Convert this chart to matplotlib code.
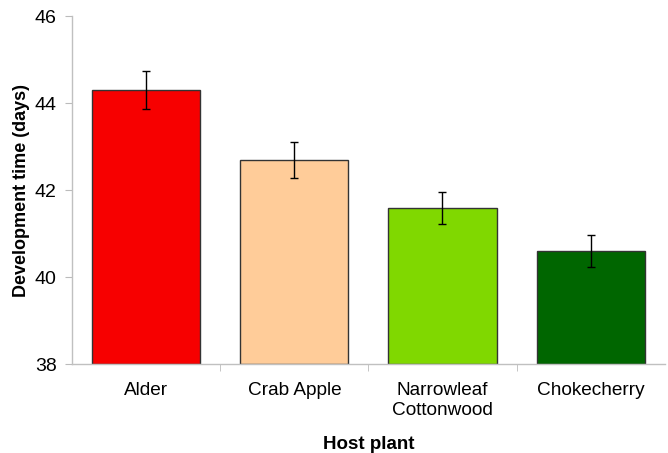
import matplotlib
matplotlib.use('Agg')
import matplotlib.pyplot as plt

plt.rcParams['font.family'] = ['Liberation Sans', 'DejaVu Sans']

# Data
plants = ['Alder', 'Crab Apple', 'Narrowleaf\nCottonwood', 'Chokecherry']
dev_time = [44.3, 42.7, 41.6, 40.6]
std_err = [0.44, 0.42, 0.37, 0.36]
colors = ['#f70000', '#ffcc99', '#80d800', '#006600']

fig = plt.figure(figsize=(6.68, 4.53), dpi=100)
ax = fig.add_axes([0.108, 0.196, 0.887, 0.768])

x = range(len(plants))
ax.bar(x, [v - 38 for v in dev_time], bottom=38, width=0.73, color=colors,
       edgecolor='#333333', linewidth=1.0, zorder=2)
ax.errorbar(x, dev_time, yerr=std_err, fmt='none', ecolor='black',
            elinewidth=1.0, capsize=3, capthick=1.0, zorder=3)

ax.set_xlim(-0.5, len(plants) - 0.5)
ax.set_ylim(38, 46)
ax.set_yticks([38, 40, 42, 44, 46])

# category labels centred, tick marks at boundaries
ax.set_xticks(list(x))
ax.set_xticklabels(plants, fontsize=13.7, linespacing=1.2)
ax.tick_params(axis='x', length=0, pad=13)
ax.set_xticks([i + 0.5 for i in range(len(plants) - 1)], minor=True)
ax.tick_params(axis='x', which='minor', length=5, color='#bbbbbb', direction='out')
ax.tick_params(axis='y', labelsize=14, length=5, color='#bbbbbb', direction='out', pad=6)

for side in ['top', 'right']:
    ax.spines[side].set_visible(False)
for side in ['left', 'bottom']:
    ax.spines[side].set_color('#c0c0c0')
    ax.spines[side].set_linewidth(1.0)

ax.set_ylabel('Development time (days)', fontsize=13, fontweight='bold', labelpad=3.5)
ax.set_xlabel('Host plant', fontsize=13.5, fontweight='bold', labelpad=12)

fig.savefig('out.png', dpi=100)
